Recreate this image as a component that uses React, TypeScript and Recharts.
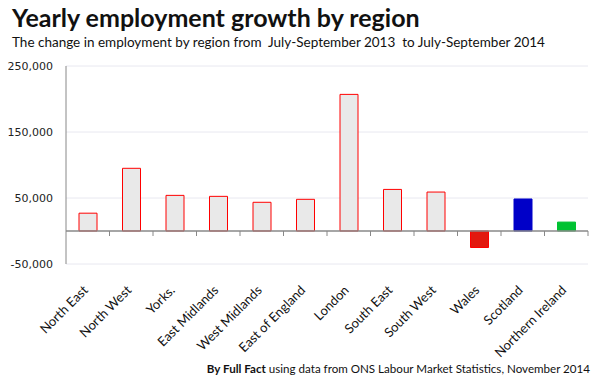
import React from "react";
import { BarChart, Bar, XAxis, YAxis, CartesianGrid, Cell, ReferenceLine } from "recharts";

const regions = [
  "North East",
  "North West",
  "Yorks.",
  "East Midlands",
  "West Midlands",
  "East of England",
  "London",
  "South East",
  "South West",
  "Wales",
  "Scotland",
  "Northern Ireland",
];
const growth = [27000, 95000, 54000, 52500, 43500, 48000, 207000, 63000, 59000, -25000, 48500, 13500];
const yTicks = [-50000, 50000, 150000, 250000];

const TITLE = "Yearly employment growth by region";
const SUBTITLE = "The change in employment by region from  July-September 2013  to July-September 2014";

const defaultFill = "#e9e9e9";
const defaultStroke = "#ff0000";
const specialFills: Record<string, string> = {
  Wales: "#e2190f",
  Scotland: "#0000c8",
  "Northern Ireland": "#00c232",
};

const data = regions.map((name, i) => ({ name, value: growth[i] }));

const fmt = (v: number) => v.toLocaleString("en-US");

const CatTick = (props: any) => {
  const { x, y, payload } = props;
  return (
    <g transform={`translate(${x + 1},${y + 19})`}>
      <text
        x={0}
        y={0}
        textAnchor="end"
        transform="rotate(-45)"
        fill="#111"
        fontSize={13}
        fontFamily="Lato, 'Open Sans', sans-serif"
      >
        {payload.value}
      </text>
    </g>
  );
};

const ZeroLine = (props: any) => {
  const { x1, y1, x2, y2 } = props;
  const n = regions.length;
  const ticks = [];
  for (let i = 1; i <= n; i++) {
    const tx = x1 + (i * (x2 - x1)) / n;
    ticks.push(<line key={i} x1={tx} x2={tx} y1={y1} y2={y1 + 5} stroke="#888" strokeWidth={1} />);
  }
  return (
    <g>
      <line x1={x1} y1={y1} x2={x2} y2={y2} stroke="#888" strokeWidth={1.5} />
      {ticks}
    </g>
  );
};

export default function App() {
  return (
    <div style={{ position: "absolute", left: 0, top: 0, width: 600, height: 380, background: "#fff" }}>
      <BarChart
        width={600}
        height={380}
        data={data}
        margin={{ top: 66, right: 12, left: 0, bottom: 0 }}
      >
        <CartesianGrid vertical={false} stroke="#e8e8f0" strokeWidth={1} />
        <XAxis
          dataKey="name"
          height={116}
          interval={0}
          axisLine={false}
          tickLine={false}
          tick={<CatTick />}
        />
        <YAxis
          width={66}
          domain={[-50000, 250000]}
          ticks={yTicks}
          tickFormatter={fmt}
          axisLine={{ stroke: "#888", strokeWidth: 1 }}
          tickLine={false}
          tickSize={0}
          tickMargin={13}
          tick={{ fill: "#222", fontSize: 11, fontFamily: "'DejaVu Sans', sans-serif" }}
        />
        <Bar dataKey="value" barSize={18} isAnimationActive={false}>
          {data.map((d) => {
            const special = specialFills[d.name];
            return (
              <Cell
                key={d.name}
                fill={special || defaultFill}
                stroke={special ? (d.name === "Wales" ? "#ff0000" : special) : defaultStroke}
                strokeWidth={1}
              />
            );
          })}
        </Bar>
        <ReferenceLine y={0} shape={<ZeroLine />} />
      </BarChart>
      <svg
        width={600}
        height={380}
        style={{ position: "absolute", left: 0, top: 0, pointerEvents: "none" }}
      >
        <text x={12} y={27} fontSize={25} fontWeight="bold" fill="#111" fontFamily="Lato, 'Open Sans', sans-serif">
          {TITLE}
        </text>
        <text x={12} y={47} fontSize={13.5} fill="#111" fontFamily="Lato, 'Open Sans', sans-serif" style={{ whiteSpace: "pre" }}>
          {SUBTITLE}
        </text>
        <text x={590} y={373} textAnchor="end" fontSize={11.6} fill="#111" fontFamily="Lato, 'Open Sans', sans-serif">
          <tspan fontWeight="bold">By Full Fact</tspan>
          <tspan> using data from ONS Labour Market Statistics, November 2014</tspan>
        </text>
      </svg>
    </div>
  );
}
